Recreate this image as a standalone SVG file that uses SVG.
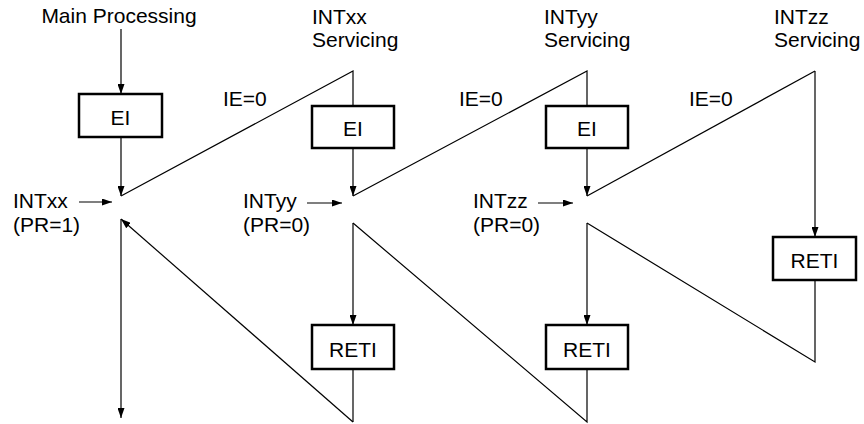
<svg xmlns="http://www.w3.org/2000/svg" width="864" height="424" viewBox="0 0 864 424">
<style>
text{font-family:"Liberation Sans",Arial,sans-serif;font-size:21px;fill:#000}
.c{text-anchor:middle}
.box{fill:#fff;stroke:#000;stroke-width:2.5}
.ln{fill:none;stroke:#000;stroke-width:1.2}
</style>
<defs>
<marker id="ah" viewBox="0 0 10 7" refX="10" refY="3.5" markerWidth="10" markerHeight="7" markerUnits="userSpaceOnUse" orient="auto">
<path d="M0,0 L10,3.5 L0,7 Z" fill="#000"/>
</marker>
</defs>
<rect width="864" height="424" fill="#fff"/>
<g id="connectors">
<line class="ln" x1="121" y1="29" x2="121" y2="94" marker-end="url(#ah)"/>
<line class="ln" x1="121" y1="137" x2="121" y2="196" marker-end="url(#ah)"/>
<polyline class="ln" points="121,196 353,71 353,106"/>
<line class="ln" x1="353" y1="148" x2="353" y2="196" marker-end="url(#ah)"/>
<polyline class="ln" points="353,196 587,71 587,106"/>
<line class="ln" x1="587" y1="148" x2="587" y2="196" marker-end="url(#ah)"/>
<line class="ln" x1="587" y1="196" x2="815" y2="71"/>
<line class="ln" x1="815" y1="71" x2="815" y2="237" marker-end="url(#ah)"/>
<polyline class="ln" points="815,280 815,362 587,223"/>
<line class="ln" x1="587" y1="223" x2="587" y2="325" marker-end="url(#ah)"/>
<polyline class="ln" points="587,369 587,422 353,223"/>
<line class="ln" x1="353" y1="223" x2="353" y2="325" marker-end="url(#ah)"/>
<polyline class="ln" points="353,369 353,422"/>
<line class="ln" x1="353" y1="422" x2="121" y2="219" marker-end="url(#ah)"/>
<line class="ln" x1="121" y1="219" x2="121" y2="418" marker-end="url(#ah)"/>
<line class="ln" x1="79" y1="202" x2="112" y2="202" marker-end="url(#ah)"/>
<line class="ln" x1="307" y1="203" x2="342" y2="203" marker-end="url(#ah)"/>
<line class="ln" x1="538" y1="203" x2="573" y2="203" marker-end="url(#ah)"/>
</g>
<g id="main"><text class="c" x="119" y="23">Main Processing</text></g>
<g id="intxx-head"><text x="312" y="24">INTxx</text><text x="312" y="47">Servicing</text></g>
<g id="intyy-head"><text x="544" y="24">INTyy</text><text x="544" y="47">Servicing</text></g>
<g id="intzz-head"><text x="774" y="24">INTzz</text><text x="774" y="47">Servicing</text></g>
<g id="ie1"><text x="223" y="106">IE=0</text></g>
<g id="ie2"><text x="459" y="106">IE=0</text></g>
<g id="ie3"><text x="689" y="106">IE=0</text></g>
<g id="ei1"><rect class="box" x="79" y="94" width="83" height="43"/><text class="c" x="120.5" y="125">EI</text></g>
<g id="ei2"><rect class="box" x="312" y="106" width="82" height="42"/><text class="c" x="353" y="136">EI</text></g>
<g id="ei3"><rect class="box" x="546" y="106" width="82" height="42"/><text class="c" x="587" y="136">EI</text></g>
<g id="reti2"><rect class="box" x="312" y="325" width="82" height="44"/><text class="c" x="353" y="357">RETI</text></g>
<g id="reti3"><rect class="box" x="546" y="325" width="82" height="44"/><text class="c" x="587" y="357">RETI</text></g>
<g id="reti4"><rect class="box" x="773" y="237" width="83" height="43"/><text class="c" x="814.5" y="268">RETI</text></g>
<g id="intxx"><text x="13" y="208">INTxx</text><text x="13" y="232">(PR=1)</text></g>
<g id="intyy"><text x="243" y="208">INTyy</text><text x="243" y="232">(PR=0)</text></g>
<g id="intzz"><text x="473" y="208">INTzz</text><text x="473" y="232">(PR=0)</text></g>
</svg>
